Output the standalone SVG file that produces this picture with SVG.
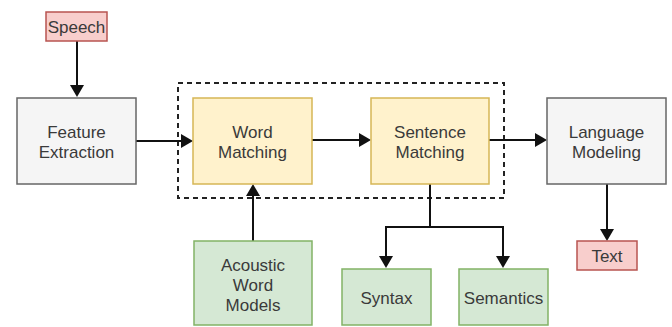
<svg xmlns="http://www.w3.org/2000/svg" width="672" height="327" viewBox="0 0 672 327">
<style>
text{font-family:"Liberation Sans",Arial,sans-serif;font-size:17px;fill:#3a3a3a;text-anchor:middle;dominant-baseline:central}
.gray{fill:#f5f5f5;stroke:#666;stroke-width:1.5}
.yel{fill:#fff2cc;stroke:#d6b656;stroke-width:1.5}
.grn{fill:#d5e8d4;stroke:#82b366;stroke-width:1.5}
.red{fill:#f8cecc;stroke:#b85450;stroke-width:1.5}
.edge{fill:none;stroke:#111;stroke-width:2}
.head{fill:#111}
</style>
<rect x="178" y="83" width="326" height="115" fill="none" stroke="#222" stroke-width="2" stroke-dasharray="5,4"/>
<g id="edges">
<path class="edge" d="M77,41 V85"/>
<path class="head" d="M70,85 L77,97 L84,85 Z"/>
<path class="edge" d="M136,141 H181"/>
<path class="head" d="M181,134 L193,141 L181,148 Z"/>
<path class="edge" d="M312,140 H359"/>
<path class="head" d="M359,133 L371,140 L359,147 Z"/>
<path class="edge" d="M489,140 H535"/>
<path class="head" d="M535,133 L547,140 L535,147 Z"/>
<path class="edge" d="M607,184 V229"/>
<path class="head" d="M600,229 L607,241 L614,229 Z"/>
<path class="edge" d="M253,241 V196"/>
<path class="head" d="M246,196 L253,184 L260,196 Z"/>
<path class="edge" d="M430,184 V227 M386,256 V227 H503 V256"/>
<path class="head" d="M379,256 L386,268 L393,256 Z"/>
<path class="head" d="M496,256 L503,268 L510,256 Z"/>
</g>
<g id="speech"><rect class="red" x="46" y="12" width="61" height="29"/><text x="76.5" y="27">Speech</text></g>
<g id="feature"><rect class="gray" x="17" y="98" width="119" height="86"/><text x="76.5" y="132">Feature</text><text x="76.5" y="152">Extraction</text></g>
<g id="word"><rect class="yel" x="193" y="98" width="119" height="86"/><text x="252.5" y="132">Word</text><text x="252.5" y="152">Matching</text></g>
<g id="sentence"><rect class="yel" x="371" y="98" width="118" height="86"/><text x="430" y="132">Sentence</text><text x="430" y="152">Matching</text></g>
<g id="language"><rect class="gray" x="547" y="98" width="119" height="86"/><text x="606.5" y="132">Language</text><text x="606.5" y="152">Modeling</text></g>
<g id="text"><rect class="red" x="577" y="241" width="60" height="29"/><text x="607" y="256">Text</text></g>
<g id="acoustic"><rect class="grn" x="194" y="241" width="118" height="84"/><text x="253" y="265">Acoustic</text><text x="253" y="285">Word</text><text x="253" y="305">Models</text></g>
<g id="syntax"><rect class="grn" x="342" y="269" width="89" height="56"/><text x="386.5" y="298">Syntax</text></g>
<g id="semantics"><rect class="grn" x="459" y="269" width="89" height="56"/><text x="503.5" y="298">Semantics</text></g>
</svg>
